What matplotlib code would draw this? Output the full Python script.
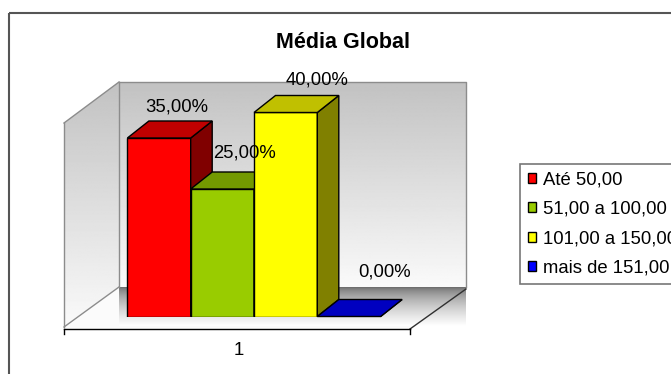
import numpy as np
import matplotlib
matplotlib.use("Agg")
import matplotlib.pyplot as plt
from matplotlib.patches import Polygon, Rectangle, Patch

plt.rcParams['font.family'] = ['Liberation Sans', 'DejaVu Sans']

# dados do gráfico
titulo = "Média Global"
categorias = ["1"]
faixas = ["Até 50,00", "51,00 a 100,00", "101,00 a 150,00", "mais de 151,00"]
percentuais = [35.0, 25.0, 40.0, 0.0]

cor_frente = ['#FF0000', '#99CC00', '#FFFF00', '#0000FF']
cor_topo = ['#C00000', '#739900', '#C0C000', '#0000C0']
cor_lado = ['#800000', '#4D6600', '#808000', '#000080']

W, H = 671, 374
fig = plt.figure(figsize=(W / 100, H / 100), dpi=100)

# eixo de fundo em pixels (paredes, piso, moldura)
bg = fig.add_axes([0, 0, 1, 1])
bg.axis('off')

def grad(x0, x1, y0, y1, c0, c1, clip=None, gamma=1.0):
    t = np.linspace(0, 1, 200) ** gamma
    g = (c0 + (c1 - c0) * t)[:, None]
    im = bg.imshow(g, cmap='gray', vmin=0, vmax=1, extent=(x0, x1, y1, y0),
                   aspect='auto', origin='upper', interpolation='bilinear', zorder=1)
    if clip is not None:
        im.set_clip_path(clip)

# parede do fundo
grad(119, 466, 82, 287, 0.76, 0.98)
# parede lateral
lateral = Polygon([(64, 123), (119, 82), (119, 287), (64, 327)], closed=True,
                  facecolor='none', edgecolor='none')
bg.add_patch(lateral)
grad(64, 119, 82, 327, 0.76, 0.98, clip=lateral)
# piso
piso = Polygon([(64, 329), (410, 329), (466, 289), (119, 287)], closed=True,
               facecolor='#FBFBFB', edgecolor='none', zorder=0.5)
bg.add_patch(piso)
grad(119, 466, 287, 326, 0.40, 1.0, gamma=0.6)

cinza = '#8C8C8C'
bg.plot([119, 466, 466], [82, 82, 287], color=cinza, lw=1, zorder=2)
bg.plot([119, 119], [82, 287], color=cinza, lw=1, zorder=2)
bg.plot([64, 119], [123, 82], color=cinza, lw=1, zorder=2)
bg.plot([64, 64], [123, 327], color=cinza, lw=1, zorder=2)
bg.plot([64, 119], [327, 287], color=cinza, lw=1, zorder=2)
bg.plot([410, 466], [329, 289], color='#303030', lw=1, zorder=2)
bg.plot([64, 410], [329, 329], color='black', lw=1, zorder=2)
bg.plot([64, 64], [329, 334], color='black', lw=1, zorder=2)
bg.plot([410, 410], [329, 334], color='black', lw=1, zorder=2)

# moldura da área do gráfico
bg.add_patch(Rectangle((9.3, 12.7), 700, 400, facecolor='none',
                       edgecolor='#555555', lw=1.5, zorder=3))

bg.text(343, 47.5, titulo, fontsize=15.5, fontweight='bold', ha='center', va='baseline')
bg.text(239, 355, categorias[0], fontsize=13.3, ha='center', va='baseline')
bg.set_xlim(0, W)
bg.set_ylim(H, 0)

# eixo das barras (plano frontal das colunas)
ax = fig.add_axes([81 / W, (H - 316.5) / H, 346 / W, 204 / H])
ax.set_xlim(0.5, 1.5)
ax.set_ylim(0, 40)
ax.axis('off')
ax.patch.set_visible(False)

largura = 63.3 / 346
pos = [1 + (i - 1.5) * largura for i in range(len(percentuais))]
DX, DY = 21.5, 17  # profundidade 3D em pixels

barras = ax.bar(pos, percentuais, width=largura, color=cor_frente,
                edgecolor='black', lw=1)

def recuo(x, y):
    p = ax.transData.transform((x, y)) + np.array([DX, DY])
    return tuple(ax.transData.inverted().transform(p))

desloc_rotulos = [(18, 26), (22, 32), (31, 28), (36, 40)]

for i, (b, v) in enumerate(zip(barras, percentuais)):
    x0 = pos[i] - largura / 2
    x1 = pos[i] + largura / 2
    z = 3 + 3 * i
    b.set_zorder(z)
    topo = Polygon([(x0, v), (x1, v), recuo(x1, v), recuo(x0, v)], closed=True,
                   facecolor=cor_topo[i], edgecolor='black', lw=1, zorder=z + 1,
                   clip_on=False)
    lado = Polygon([(x1, 0), (x1, v), recuo(x1, v), recuo(x1, 0)], closed=True,
                   facecolor=cor_lado[i], edgecolor='black', lw=1, zorder=z + 1,
                   clip_on=False)
    ax.add_patch(lado)
    ax.add_patch(topo)
    rot = f"{v:.2f}%".replace('.', ',')
    ax.annotate(rot, xy=(pos[i], v), xytext=desloc_rotulos[i], textcoords='offset pixels',
                ha='center', va='baseline', fontsize=13.3, zorder=20,
                annotation_clip=False)

# legenda (a caixa passa da borda direita da figura)
alcas = [Patch(facecolor=c, edgecolor='black', lw=1) for c in cor_frente]
leg = fig.legend(alcas, faixas, loc='upper left', bbox_to_anchor=(520 / W, 1 - 164 / H),
                 borderaxespad=0, fontsize=13.3, frameon=True, fancybox=False,
                 handlelength=0.45, handleheight=0.45, handletextpad=0.4,
                 labelspacing=0.66, borderpad=0.42)
leg.get_frame().set_edgecolor('#555555')
leg.get_frame().set_linewidth(1.2)

fig.savefig('out.png', dpi=100)
